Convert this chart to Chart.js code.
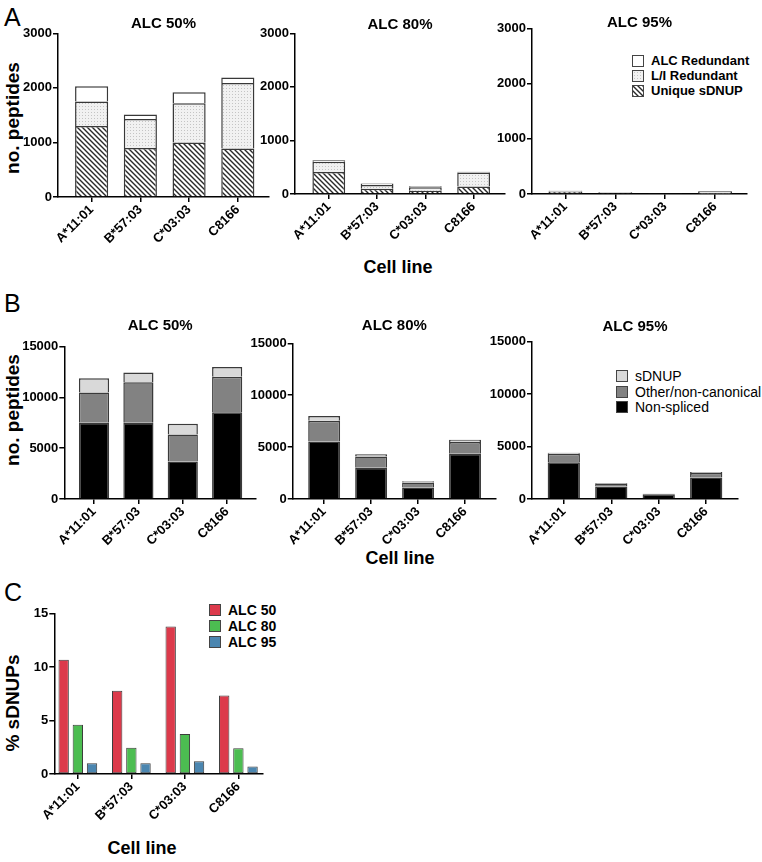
<!DOCTYPE html>
<html>
<head>
<meta charset="utf-8">
<script src="https://cdn.jsdelivr.net/npm/chart.js@4.4.1/dist/chart.umd.min.js"></script>
<style>
  body { margin: 0; background: #fff; width: 762px; height: 862px; position: relative; overflow: hidden;
         font-family: "Liberation Sans", Arial, sans-serif; color: #000; }
  canvas { position: absolute; }
  .letter { position: absolute; font-size: 25px; line-height: 1; }
  .ytitle, .xtitle { position: absolute; font-weight: bold; white-space: nowrap; line-height: 1; }
  .ytitle { font-size: 19px; transform: translate(-50%, -50%) rotate(-90deg); }
  .xtitle { font-size: 18px; transform: translate(-50%, -50%); }
  .legend { position: absolute; }
  .legend .row { display: flex; align-items: center; white-space: nowrap; }
  .legend .sw { box-sizing: border-box; border: 1px solid #444; margin-right: 7px; flex: none; }
</style>
</head>
<body>
<div class="letter" style="left:4px;top:5px">A</div>
<div class="letter" style="left:4px;top:291px">B</div>
<div class="letter" style="left:4px;top:580px">C</div>

<div class="ytitle" style="left:12px;top:118px">no. peptides</div>
<div class="ytitle" style="left:12px;top:410px">no. peptides</div>
<div class="ytitle" style="left:12px;top:703px">% sDNUPs</div>
<div class="xtitle" style="left:398px;top:267px">Cell line</div>
<div class="xtitle" style="left:400px;top:558px">Cell line</div>
<div class="xtitle" style="left:142px;top:848px">Cell line</div>

<div class="legend" id="legA" style="left:632px;top:53px;font-size:13px;font-weight:bold"></div>
<div class="legend" id="legB" style="left:616px;top:368px;font-size:14px"></div>
<div class="legend" id="legC" style="left:209px;top:602px;font-size:14px;font-weight:bold"></div>

<script>
"use strict";

///////////////////////////////////////
// Data

const cellLines = ["A*11:01", "B*57:03", "C*03:03", "C8166"];

// A: sDNUP breakdown (stack bottom -> top)
const uniqueA50 = [1300, 900, 1000, 890];
const liA50 = [450, 530, 720, 1200];
const alcA50 = [280, 80, 200, 100];
const uniqueA80 = [410, 100, 60, 140];
const liA80 = [190, 70, 65, 260];
const alcA80 = [30, 25, 20, 15];
const uniqueA95 = [45, 20, 8, 10];
const liA95 = [15, 10, 5, 40];
const alcA95 = [5, 5, 2, 5];

// B: peptide classes (stack bottom -> top)
const nonSpliced50 = [7500, 7500, 3700, 8550];
const other50 = [3000, 4000, 2650, 3500];
const sdnup50 = [1400, 950, 1050, 950];
const nonSpliced80 = [5550, 3000, 1100, 4350];
const other80 = [2000, 1100, 500, 1150];
const sdnup80 = [450, 200, 120, 200];
const nonSpliced95 = [3500, 1200, 450, 2050];
const other95 = [820, 250, 40, 420];
const sdnup95 = [80, 70, 10, 100];

// C: % sDNUPs
const pct50 = [10.7, 7.8, 13.8, 7.35];
const pct80 = [4.6, 2.45, 3.75, 2.4];
const pct95 = [1.0, 1.0, 1.2, 0.7];

const ticksA = [0, 1000, 2000, 3000];
const ticksB = [0, 5000, 10000, 15000];
const ticksC = [0, 5, 10, 15];

///////////////////////////////////////
// Fills

const makeHatch = function () {
  const s = 5;
  const c = document.createElement("canvas");
  c.width = c.height = s;
  const g = c.getContext("2d");
  g.fillStyle = "#fff";
  g.fillRect(0, 0, s, s);
  g.strokeStyle = "#2a2a2a";
  g.lineWidth = 1.4;
  g.beginPath();
  g.moveTo(0, 0); g.lineTo(s, s);
  g.moveTo(-1, s - 1); g.lineTo(1, s + 1);
  g.moveTo(s - 1, -1); g.lineTo(s + 1, 1);
  g.stroke();
  return c;
};

const makeDots = function () {
  const c = document.createElement("canvas");
  c.width = c.height = 3;
  const g = c.getContext("2d");
  g.fillStyle = "#f1f1f1";
  g.fillRect(0, 0, 3, 3);
  g.fillStyle = "#c4c4c4";
  g.fillRect(1, 1, 1, 1);
  return c;
};

const hatchTile = makeHatch();
const dotTile = makeDots();
const pat = document.createElement("canvas").getContext("2d");
const hatch = pat.createPattern(hatchTile, "repeat");
const dots = pat.createPattern(dotTile, "repeat");

const colors = {
  alc: "#ffffff",
  li: dots,
  unique: hatch,
  sdnup: "#d9d9d9",
  other: "#828282",
  nonSpliced: "#000000",
  c50: "#dc3a4b",
  c80: "#4cbd51",
  c95: "#4b86b0",
};

///////////////////////////////////////
// Legends (html)

const addLegend = function (id, items, size, gap) {
  const el = document.getElementById(id);
  items.forEach(function (it) {
    const row = document.createElement("div");
    row.className = "row";
    row.style.height = gap + "px";
    const sw = document.createElement("div");
    sw.className = "sw";
    sw.style.width = sw.style.height = size + "px";
    if (it.tile) sw.style.backgroundImage = "url(" + it.tile.toDataURL() + ")";
    else sw.style.background = it.color;
    row.appendChild(sw);
    row.appendChild(document.createTextNode(it.label));
    el.appendChild(row);
  });
};

addLegend("legA", [
  { label: "ALC Redundant", color: "#fff" },
  { label: "L/I Redundant", tile: dotTile },
  { label: "Unique sDNUP", tile: hatchTile },
], 12, 15);
addLegend("legB", [
  { label: "sDNUP", color: colors.sdnup },
  { label: "Other/non-canonical", color: colors.other },
  { label: "Non-spliced", color: colors.nonSpliced },
], 12, 15.7);
addLegend("legC", [
  { label: "ALC 50", color: colors.c50 },
  { label: "ALC 80", color: colors.c80 },
  { label: "ALC 95", color: colors.c95 },
], 12, 16);

///////////////////////////////////////
// Chart builder

Chart.defaults.font.family = '"Liberation Sans", Arial, sans-serif';
Chart.defaults.color = "#000";

const segBorder = { top: 1.5, left: 1.5, right: 1.5, bottom: 0 };

const stackSet = function (label, data, fill, border) {
  return {
    label: label,
    data: data,
    backgroundColor: fill,
    borderColor: border,
    borderWidth: segBorder,
    borderSkipped: false,
    barPercentage: 0.68,
    categoryPercentage: 1,
  };
};

const addChart = function (p) {
  const canvas = document.createElement("canvas");
  const w = p.x1 + 8 - p.left;
  const h = p.y1 + 60 - p.top;
  canvas.width = w;
  canvas.height = h;
  canvas.style.left = p.left + "px";
  canvas.style.top = p.top + "px";
  document.body.appendChild(canvas);

  let padTop = p.y0 - p.top;
  let title = { display: false };
  if (p.title) {
    const pt = p.titleY - p.top - 9;
    title = {
      display: true,
      text: p.title,
      fullSize: false,
      font: { size: 15, weight: "bold", lineHeight: 1.2 },
      color: "#000",
      padding: { top: pt, bottom: p.y0 - p.top - pt - 18 },
    };
    padTop = 0;
  }

  const n = cellLines.length;
  return new Chart(canvas, {
    type: "bar",
    data: { labels: cellLines, datasets: p.datasets },
    options: {
      responsive: false,
      animation: false,
      layout: { padding: { top: padTop, left: 0, right: 8, bottom: 0 } },
      plugins: { legend: { display: false }, tooltip: { enabled: false }, title: title },
      scales: {
        x: {
          stacked: p.stacked,
          afterBuildTicks: function (s) {
            s._startValue = -p.gapL;
            s._valueRange = n - 1 + p.gapL + p.gapR;
          },
          afterFit: function (s) { s.height = 60; },
          grid: { offset: false, drawOnChartArea: false, tickLength: 5, color: "#000", lineWidth: 1.5 },
          border: { color: "#000", width: 1.5 },
          ticks: {
            autoSkip: false, minRotation: 45, maxRotation: 45, padding: 0,
            font: { size: 13, weight: "bold" },
          },
        },
        y: {
          stacked: p.stacked,
          min: p.yTicks[0],
          max: p.yTicks[p.yTicks.length - 1],
          afterBuildTicks: function (s) {
            s.ticks = p.yTicks.map(function (v) { return { value: v }; });
          },
          afterFit: function (s) { s.width = p.x0 - p.left; },
          grid: { drawOnChartArea: false, tickLength: 5, color: "#000", lineWidth: 1.5 },
          border: { color: "#000", width: 1.5 },
          ticks: {
            padding: 1,
            font: { size: 13, weight: "bold" },
            callback: function (v) { return String(v); },
          },
        },
      },
    },
  });
};

const setsA = function (u, l, a) {
  return [
    stackSet("Unique sDNUP", u, colors.unique, "#383838"),
    stackSet("L/I Redundant", l, colors.li, "#383838"),
    stackSet("ALC Redundant", a, colors.alc, "#383838"),
  ];
};
const setsB = function (ns, o, s) {
  return [
    stackSet("Non-spliced", ns, colors.nonSpliced, "#3a3a3a"),
    stackSet("Other/non-canonical", o, colors.other, "#3a3a3a"),
    stackSet("sDNUP", s, colors.sdnup, "#3a3a3a"),
  ];
};

///////////////////////////////////////
// Panel A

addChart({ left: 0, top: 0, x0: 58, x1: 269, y0: 33.3, y1: 197.3, title: "ALC 50%", titleY: 24,
  yTicks: ticksA, stacked: true, gapL: 0.69, gapR: 0.64, datasets: setsA(uniqueA50, liA50, alcA50) });
addChart({ left: 255, top: 0, x0: 295, x1: 505, y0: 33.3, y1: 194, title: "ALC 80%", titleY: 24.5,
  yTicks: ticksA, stacked: true, gapL: 0.7, gapR: 0.65, datasets: setsA(uniqueA80, liA80, alcA80) });
addChart({ left: 492, top: 0, x0: 532, x1: 747, y0: 28.3, y1: 194, title: "ALC 95%", titleY: 23.3,
  yTicks: ticksA, stacked: true, gapL: 0.67, gapR: 0.64, datasets: setsA(uniqueA95, liA95, alcA95) });

///////////////////////////////////////
// Panel B

addChart({ left: 0, top: 290, x0: 64.3, x1: 256, y0: 346.7, y1: 499.3, title: "ALC 50%", titleY: 325.7,
  yTicks: ticksB, stacked: true, gapL: 0.67, gapR: 0.65, datasets: setsB(nonSpliced50, other50, sdnup50) });
addChart({ left: 248, top: 290, x0: 292.7, x1: 496.7, y0: 343.3, y1: 499, title: "ALC 80%", titleY: 326,
  yTicks: ticksB, stacked: true, gapL: 0.67, gapR: 0.66, datasets: setsB(nonSpliced80, other80, sdnup80) });
addChart({ left: 487, top: 290, x0: 532, x1: 738.3, y0: 341.7, y1: 499.3, title: "ALC 95%", titleY: 326.7,
  yTicks: ticksB, stacked: true, gapL: 0.67, gapR: 0.67, datasets: setsB(nonSpliced95, other95, sdnup95) });

///////////////////////////////////////
// Panel C

const groupSet = function (label, data, fill) {
  return {
    label: label, data: data, backgroundColor: fill, borderColor: "#3c3c3c",
    borderWidth: 1, borderSkipped: false, barPercentage: 0.73, categoryPercentage: 0.795,
  };
};

addChart({ left: 0, top: 595, x0: 54.3, x1: 263.3, y0: 613.7, y1: 774,
  yTicks: ticksC, stacked: false, gapL: 0.44, gapR: 0.46,
  datasets: [
    groupSet("ALC 50", pct50, colors.c50),
    groupSet("ALC 80", pct80, colors.c80),
    groupSet("ALC 95", pct95, colors.c95),
  ] });
</script>
</body>
</html>
